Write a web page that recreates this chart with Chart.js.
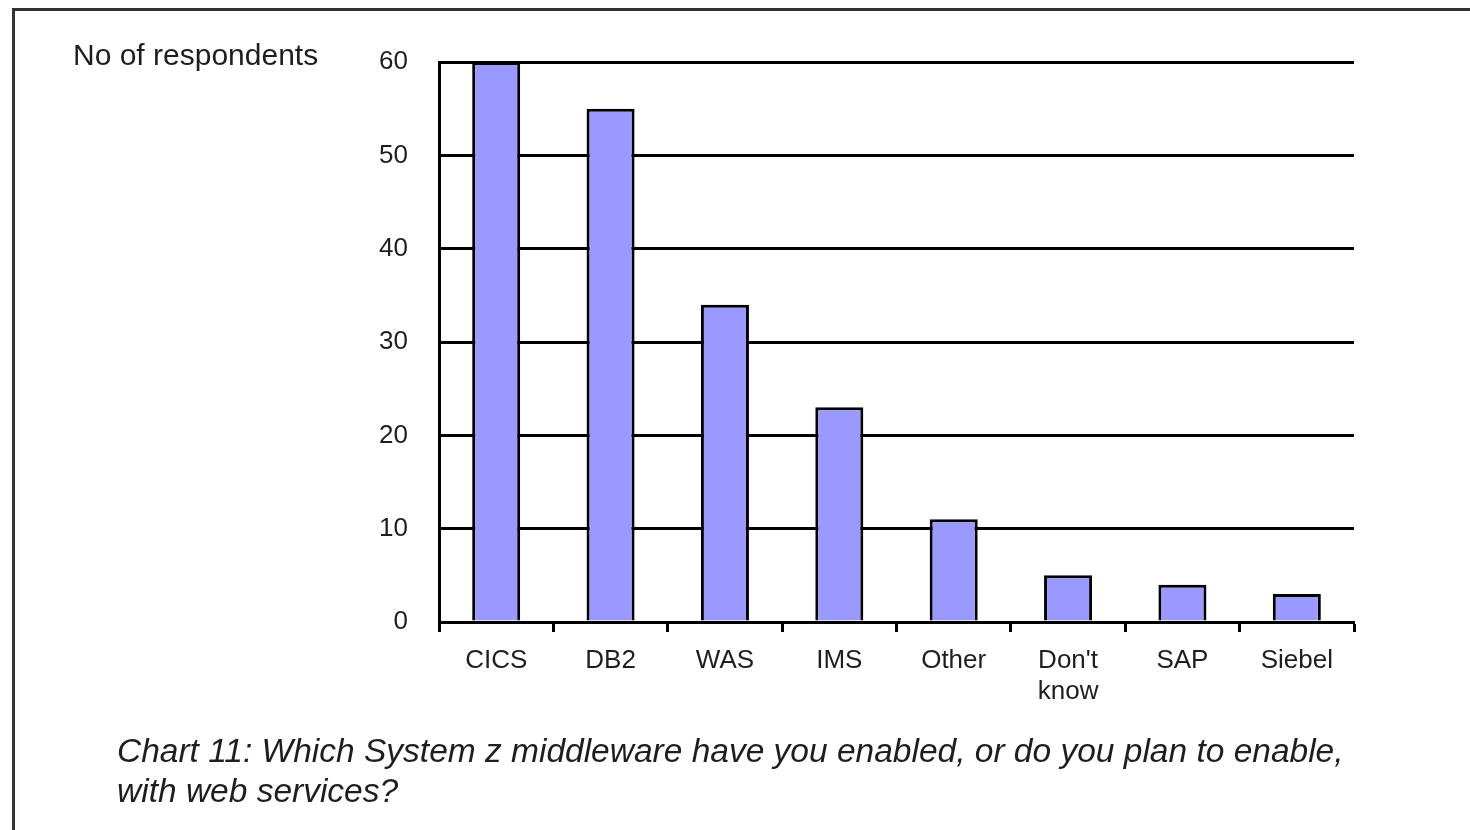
<!DOCTYPE html>
<html>
<head>
<meta charset="utf-8">
<script src="https://cdn.jsdelivr.net/npm/chart.js@4"></script>
<style>
  body { margin: 0; background: #fff; }
  #wrap { position: relative; width: 1470px; height: 830px; overflow: hidden; font-family: "Liberation Sans", Arial, sans-serif; color: #1e1e1e; }
  #frame { position: absolute; left: 12px; top: 8px; width: 1500px; height: 900px; border-left: 3px solid #333; border-top: 3px solid #333; }
  #chart { position: absolute; left: 0; top: 0; }
  #ytitle { position: absolute; left: 73px; top: 38px; font-size: 30px; }
  #caption { position: absolute; left: 117px; top: 731px; font-size: 33.5px; font-style: italic; line-height: 40px; }
</style>
</head>
<body>
<div id="wrap">
  <div id="frame"></div>
  <canvas id="chart" width="1470" height="830"></canvas>
  <div id="ytitle">No of respondents</div>
  <div id="caption">Chart 11: Which System z middleware have you enabled, or do you plan to enable,<br>with web services?</div>
</div>
<script>
// Data
const categories = ["CICS", "DB2", "WAS", "IMS", "Other", ["Don't", "know"], "SAP", "Siebel"];
const respondents = [60, 55, 34, 23, 11, 5, 4, 3];
const yTicks = [0, 10, 20, 30, 40, 50, 60];

const ctx = document.getElementById("chart").getContext("2d");
const chart = new Chart(ctx, {
  type: "bar",
  data: {
    labels: categories,
    datasets: [
      {
        label: "No of respondents",
        data: respondents,
        backgroundColor: "#9999ff",
        borderColor: "#000",
        borderWidth: 3,
        categoryPercentage: 1,
        barPercentage: 0.42,
      },
    ],
  },
  options: {
    responsive: false,
    animation: false,
    layout: { padding: { top: 62, right: 116, bottom: 0, left: 0 } },
    plugins: {
      legend: { display: false },
      tooltip: { enabled: false },
    },
    scales: {
      x: {
        grid: {
          drawOnChartArea: false,
          drawTicks: true,
          tickLength: 10,
          tickColor: "#000",
          tickWidth: 3,
        },
        border: { display: true, color: "#000", width: 3 },
        ticks: {
          color: "#1e1e1e",
          font: { family: "'Liberation Sans', Arial, sans-serif", size: 26 },
          padding: 13,
          maxRotation: 0,
          autoSkip: false,
        },
        afterFit(scale) {
          scale.height = 208;
        },
      },
      y: {
        min: 0,
        max: 60,
        afterBuildTicks(scale) {
          scale.ticks = yTicks.map((v) => ({ value: v }));
        },
        grid: {
          color: "#000",
          lineWidth: 3,
          drawTicks: false,
        },
        border: { display: true, color: "#000", width: 3 },
        ticks: {
          color: "#1e1e1e",
          font: { family: "'Liberation Sans', Arial, sans-serif", size: 26 },
          padding: 31,
        },
        afterFit(scale) {
          scale.width = 439;
        },
      },
    },
  },
});
</script>
</body>
</html>
